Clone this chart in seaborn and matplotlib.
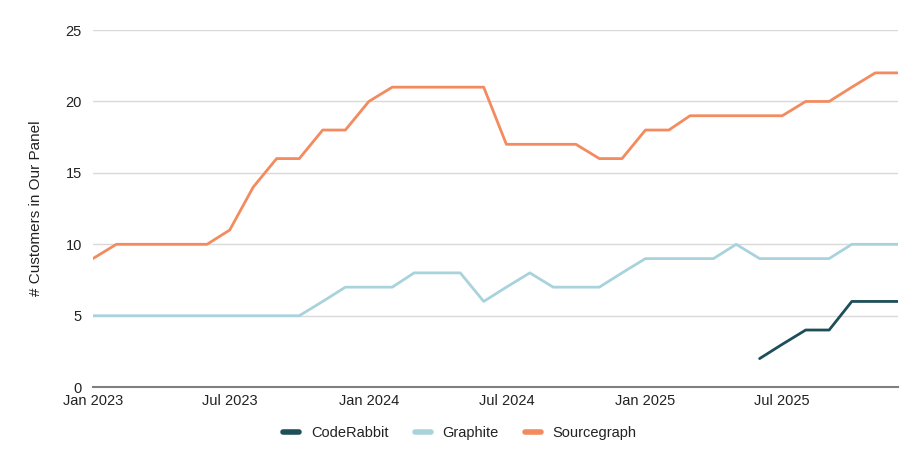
import numpy as np
import pandas as pd
from matplotlib import pyplot as plt
import matplotlib.dates as mdates
import seaborn as sns

months = pd.date_range("2023-01-01", "2025-12-01", freq="MS")

sourcegraph = [9, 10, 10, 10, 10, 10, 11, 14, 16, 16, 18, 18,
               20, 21, 21, 21, 21, 21, 17, 17, 17, 17, 16, 16,
               18, 18, 19, 19, 19, 19, 19, 20, 20, 21, 22, 22]
graphite = [5, 5, 5, 5, 5, 5, 5, 5, 5, 5, 6, 7,
            7, 7, 8, 8, 8, 6, 7, 8, 7, 7, 7, 8,
            9, 9, 9, 9, 10, 9, 9, 9, 9, 10, 10, 10]
coderabbit = [np.nan] * 29 + [2, 3, 4, 4, 6, 6, 6]

series_names = ["CodeRabbit", "Graphite", "Sourcegraph"]
colors = {"CodeRabbit": "#1d4e59", "Graphite": "#a9d3dc", "Sourcegraph": "#f38b5f"}

df = pd.concat([
    pd.DataFrame({"month": months, "customers": coderabbit, "tool": "CodeRabbit"}),
    pd.DataFrame({"month": months, "customers": graphite, "tool": "Graphite"}),
    pd.DataFrame({"month": months, "customers": sourcegraph, "tool": "Sourcegraph"}),
], ignore_index=True).dropna()

sns.set_style("white")
plt.rcParams['font.family'] = ['Liberation Sans', 'DejaVu Sans']

fig = plt.figure(figsize=(9.2, 4.62), dpi=100)
ax = fig.add_axes([0.101, 0.162, 0.875, 0.773])

sns.lineplot(data=df, x="month", y="customers", hue="tool", hue_order=series_names,
             palette=colors, linewidth=2, ax=ax, legend=False)

ax.set_xlim(months[0], months[-1])
ax.set_ylim(0, 25)
ax.set_yticks([0, 5, 10, 15, 20, 25])
ax.xaxis.set_major_locator(mdates.MonthLocator(bymonth=[1, 7]))
ax.xaxis.set_major_formatter(mdates.DateFormatter("%b %Y"))

ax.grid(axis="y", color="#d9d9d9", linewidth=1)
ax.set_axisbelow(True)
for side in ["top", "right", "left"]:
    ax.spines[side].set_visible(False)
ax.spines["bottom"].set_color("#7f7f7f")
ax.spines["bottom"].set_linewidth(1.5)
ax.tick_params(axis="both", length=0, labelsize=10.5, colors="#222222")
ax.tick_params(axis="y", pad=8)
ax.tick_params(axis="x", pad=5)

ax.set_xlabel("")
ax.set_ylabel("# Customers in Our Panel", fontsize=11, color="#222222", labelpad=16)

handles = [plt.Line2D([], [], color=colors[n], linewidth=4) for n in series_names]
fig.legend(handles, series_names, loc="center", bbox_to_anchor=(0.5, 0.062), ncol=3,
           frameon=False, fontsize=10.5, handlelength=1.1, columnspacing=1.8,
           handletextpad=0.8, labelcolor="#222222")

plt.savefig("out.png", dpi=100)
